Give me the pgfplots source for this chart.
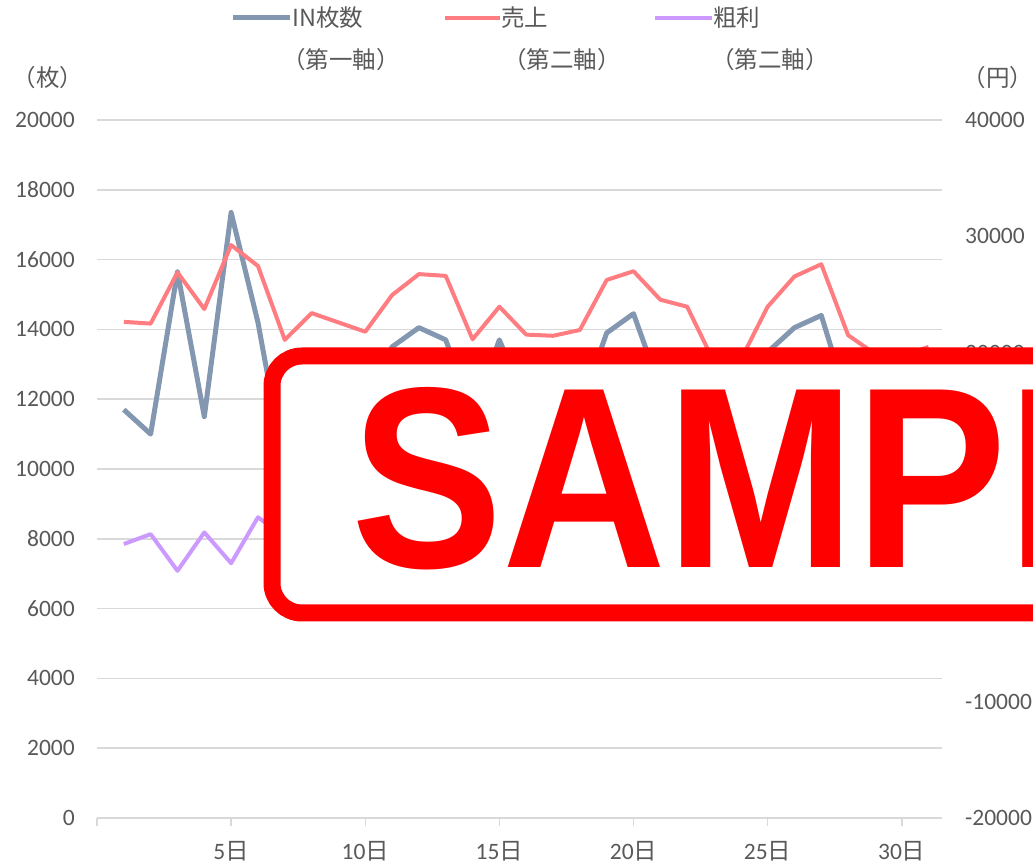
\documentclass[border=0pt]{standalone}
\usepackage{fontspec}
\setmainfont{Carlito}
\newfontfamily\jp{Noto Sans CJK JP}
\newfontfamily\stampfont{Liberation Sans}
\usepackage{pgfplots}
\usepackage{pgfplotstable}
\pgfplotsset{compat=1.18}

\definecolor{txt}{HTML}{595959}
\definecolor{gridc}{HTML}{D9D9D9}
\definecolor{inc}{HTML}{8497B0}
\definecolor{salc}{HTML}{FF7C80}
\definecolor{proc}{HTML}{CC99FF}
\definecolor{stampred}{HTML}{FF0000}

\pgfplotstableread{
day in sales profit
1 11700 22650 3550
2 11000 22500 4400
3 15650 26900 1250
4 11500 23750 4550
5 17350 29250 1900
6 14200 27450 5850
7 10000 21100 4200
8 11200 23400 3500
9 11600 22600 4800
10 12000 21800 3900
11 13500 24950 5200
12 14050 26750 4600
13 13700 26600 3800
14 11600 21150 4500
15 13700 23950 3300
16 11800 21550 5000
17 11400 21450 4100
18 11700 21950 3700
19 13900 26250 4900
20 14450 27000 5400
21 12300 24550 4300
22 12000 23950 3600
23 10800 19200 3100
24 11300 19400 4000
25 13350 23950 4700
26 14050 26550 5500
27 14400 27600 5200
28 11900 21500 3900
29 11500 19900 3400
30 11000 19700 3800
31 11600 20500 4200
}\datatable

\newcommand{\lbl}{\fontsize{23.5}{28}\selectfont}

\begin{document}
\begin{tikzpicture}
\useasboundingbox (0,0) rectangle (1033pt,865pt);
\begin{axis}[
  at={(97pt,47pt)}, anchor=south west,
  width=845pt, height=698pt, scale only axis,
  xmin=0, xmax=31.5, ymin=0, ymax=20000,
  scaled y ticks=false, scaled x ticks=false,
  axis x line*=bottom, axis y line*=left,
  x axis line style={draw=gridc, line width=1.5pt, -},
  y axis line style={draw=none},
  xtick={0,5,10,15,20,25,30},
  xticklabels={,{5\jp 日},{10\jp 日},{15\jp 日},{20\jp 日},{25\jp 日},{30\jp 日}},
  ytick={0,2000,4000,6000,8000,10000,12000,14000,16000,18000,20000},
  yticklabels={0,2000,4000,6000,8000,10000,12000,14000,16000,18000,20000},
  ymajorgrids, grid style={draw=gridc, line width=1.5pt},
  xtick style={draw=gridc, line width=1.5pt},
  ytick style={draw=none},
  xtick align=outside, major tick length=8pt,
  tick label style={font=\lbl, text=txt},
  yticklabel style={inner sep=0pt, xshift=-22pt},
  xticklabel style={inner sep=0pt, yshift=-15pt},
]
\addplot[inc, line width=5pt, line join=round] table[x=day,y=in]{\datatable};
\end{axis}
\begin{axis}[
  at={(97pt,47pt)}, anchor=south west,
  width=845pt, height=698pt, scale only axis,
  xmin=0, xmax=31.5, ymin=-20000, ymax=40000,
  scaled y ticks=false,
  axis x line=none, axis y line*=right,
  y axis line style={draw=none},
  ytick={-20000,-10000,0,10000,20000,30000,40000},
  yticklabels={-20000,-10000,0,10000,20000,30000,40000},
  ytick style={draw=none},
  tick label style={font=\lbl, text=txt},
  yticklabel style={inner sep=0pt, xshift=23pt},
]
\addplot[salc, line width=4pt, line join=round] table[x=day,y=sales]{\datatable};
\addplot[proc, line width=4pt, line join=round] table[x=day,y=profit]{\datatable};
\end{axis}
% legend
\draw[inc, line width=5pt] (233pt,847pt) -- (290pt,847pt);
\node[anchor=west, inner sep=0pt, text=txt, font=\lbl\jp] at (292pt,847pt) {IN枚数};
\node[inner sep=0pt, text=txt, font=\lbl\jp] at (341pt,805pt) {（第一軸）};
\draw[salc, line width=4pt] (445pt,847pt) -- (500pt,847pt);
\node[anchor=west, inner sep=0pt, text=txt, font=\lbl\jp] at (501pt,847pt) {売上};
\node[inner sep=0pt, text=txt, font=\lbl\jp] at (562pt,805pt) {（第二軸）};
\draw[proc, line width=4pt] (655pt,847pt) -- (712pt,847pt);
\node[anchor=west, inner sep=0pt, text=txt, font=\lbl\jp] at (713pt,847pt) {粗利};
\node[inner sep=0pt, text=txt, font=\lbl\jp] at (770pt,805pt) {（第二軸）};
% axis units
\node[inner sep=0pt, text=txt, font=\lbl\jp] at (48pt,787pt) {（枚）};
\node[inner sep=0pt, text=txt, font=\lbl\jp] at (998pt,787pt) {（円）};
% SAMPLE stamp
\draw[stampred, line width=17pt, fill=white, rounded corners=30pt] (272pt,252pt) rectangle (1110pt,509pt);
\node[anchor=base west, inner sep=0pt, text=stampred, font=\stampfont\bfseries\fontsize{258}{260}\selectfont, xscale=0.88] at (351pt,297pt) {SAMPLE};
\end{tikzpicture}
\end{document}
